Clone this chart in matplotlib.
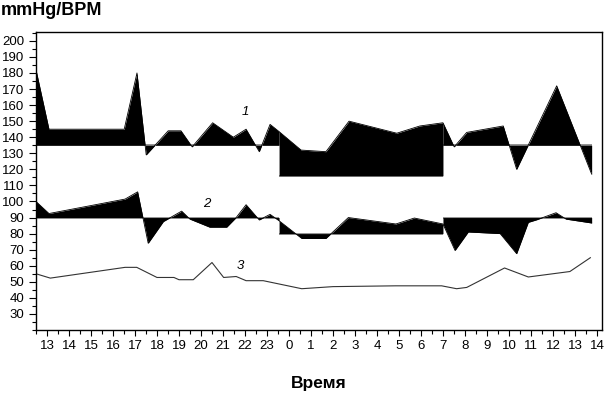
import numpy as np
import matplotlib.pyplot as plt

plt.rcParams['font.family'] = ['Liberation Sans', 'DejaVu Sans']

# time in hours from 13:00 of day 1 (values > 24 are next day)
t_sys = [12.5, 13.09, 16.51, 17.09, 17.51, 18.51, 19.09, 19.6, 20.53, 21.47, 22.05, 22.65,
         23.14, 23.55, 24.55, 25.68, 26.73, 28.9, 29.95, 31.0, 31.51, 32.08, 33.74, 34.35,
         36.17, 37.76]
sys_bp = [182, 145, 145, 180, 129, 144, 144, 134, 149, 140, 145, 131,
          148, 143.5, 132, 131, 150, 142.5, 147, 149, 134, 143, 147, 120,
          172, 117]

t_dia = [12.5, 13.09, 16.55, 17.12, 17.6, 18.29, 19.12, 19.5, 20.4, 21.17, 21.6, 22.05,
         22.65, 23.14, 23.55, 24.58, 25.68, 26.7, 28.86, 29.7, 31.0, 31.55, 32.15, 33.6,
         34.35, 34.88, 35.26, 36.14, 36.6, 37.76]
dia_bp = [100, 92.5, 101.5, 106, 74, 87.5, 94, 89, 84, 84, 90, 98,
          88.5, 92, 88, 77, 77, 90, 86, 89.7, 86, 69.5, 81, 80,
          67.5, 87, 88.6, 93, 89, 86.6]

t_hr = [12.5, 13.15, 16.55, 17.08, 18.0, 18.77, 19.0, 19.65, 20.5, 21.03, 21.6, 22.05,
        22.83, 24.58, 26.0, 28.86, 30.94, 31.62, 32.08, 33.8, 34.88, 36.77, 37.7]
hr = [55, 52.3, 59, 59, 52.7, 52.7, 51.3, 51.3, 62, 52.7, 53.3, 50.7,
      50.7, 45.7, 47, 47.5, 47.5, 45.7, 46.5, 58.6, 53, 56.4, 65]

night = (23.55, 31.0)
sys_limits = (135, 116)   # day, night
dia_limits = (90, 80)

hours = list(range(13, 39))
hour_labels = [str(h % 24) for h in hours]

fig = plt.figure(figsize=(6.05, 3.94), dpi=100)
ax = fig.add_axes([36 / 605, 64 / 394, 566 / 605, 298 / 394])


def draw_band(t, v, limits):
    t = np.array(t)
    v = np.array(v)
    segs = [(t[0], night[0], limits[0]), (night[0], night[1], limits[1]),
            (night[1], t[-1], limits[0])]
    for a, b, base in segs:
        m = (t >= a) & (t <= b)
        ax.fill_between(t[m], v[m], base, color='black', lw=0, zorder=2)
        ax.hlines(base, a, b, color='#808080', lw=1.2, zorder=1)
    ax.plot(t, v, color='black', lw=0.6, zorder=3)


draw_band(t_sys, sys_bp, sys_limits)
draw_band(t_dia, dia_bp, dia_limits)
ax.plot(t_hr, hr, color='#333333', lw=0.8)

ax.text(22.0, 156, '1', style='italic', fontsize=9.5, ha='center', va='center')
ax.text(20.25, 98.5, '2', style='italic', fontsize=9.5, ha='center', va='center')
ax.text(21.8, 60, '3', style='italic', fontsize=9.5, ha='center', va='center')

ax.set_xlim(12.5, 38.23)
ax.set_ylim(20, 205.5)
ax.set_xticks(hours)
ax.set_xticklabels(hour_labels)
ax.set_xticks(np.arange(12.5, 38.5, 1), minor=True)
ax.set_yticks(range(30, 201, 10))
ax.set_yticks(range(20, 206, 5), minor=True)
ax.tick_params(axis='both', which='major', labelsize=9.5, length=4, width=0.8)
ax.tick_params(axis='both', which='minor', length=3, width=0.8)
ax.tick_params(axis='y', which='major', length=5)
for s in ax.spines.values():
    s.set_linewidth(1)

ax.set_xlabel('Время', fontsize=12.5, fontweight='bold', labelpad=17)
fig.text(0.002, 0.995, 'mmHg/BPM', fontsize=13, fontweight='bold', ha='left', va='top')

fig.savefig('out.png', dpi=100)
